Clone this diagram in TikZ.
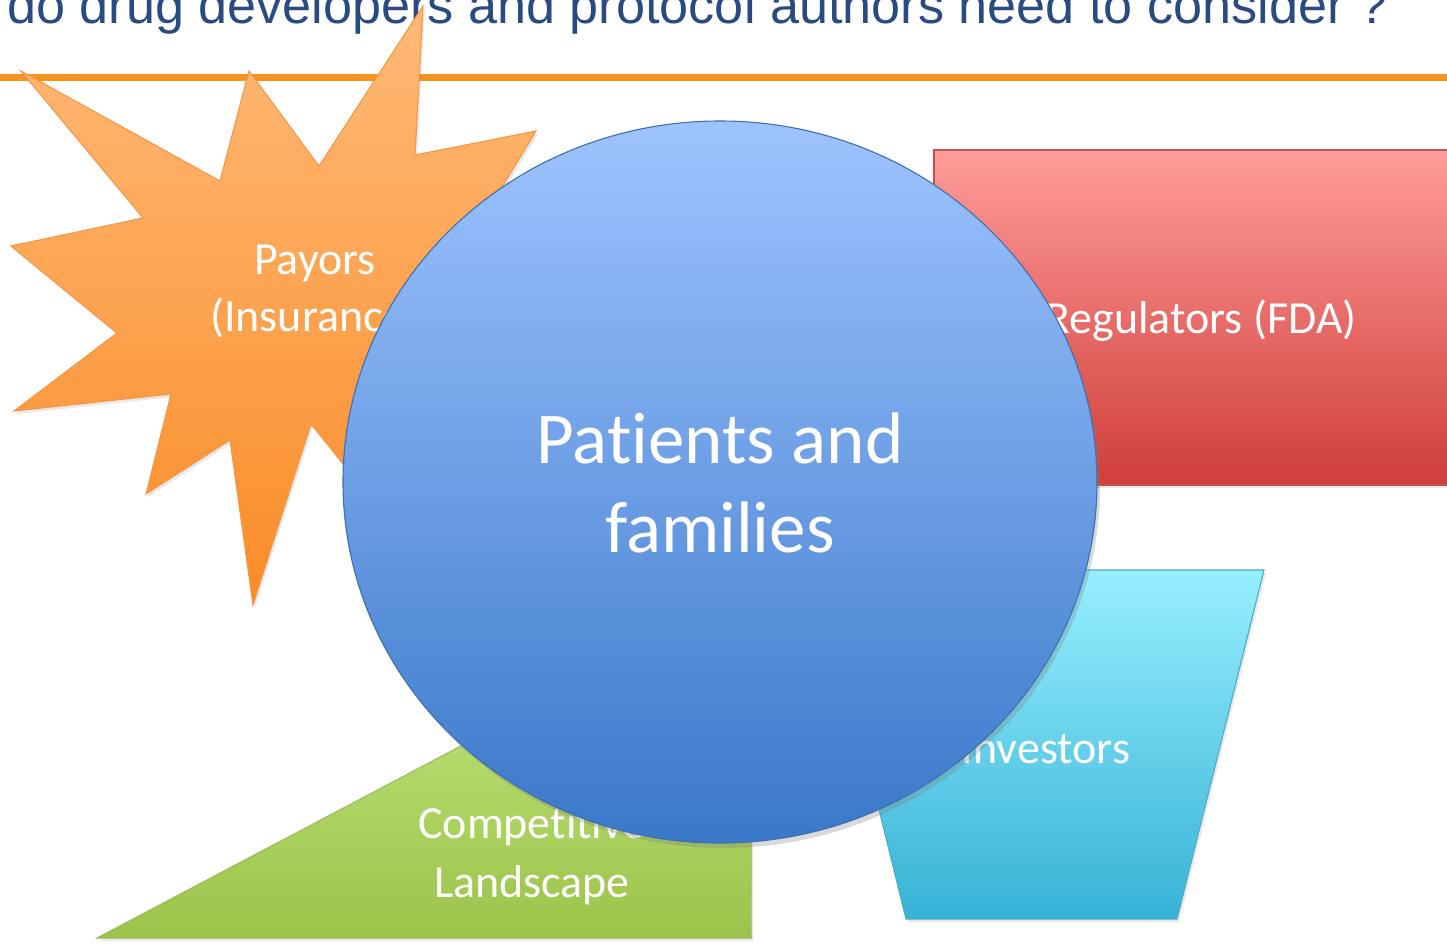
\documentclass[tikz,border=0pt]{standalone}
\usepackage{fontspec}
\setmainfont{Carlito}[Ligatures=NoCommon]
\newfontfamily\titlefont{Liberation Sans}
\usetikzlibrary{shadows}

\definecolor{titleblue}{HTML}{2A4B82}
\definecolor{rulecol}{HTML}{F7941E}
\definecolor{startop}{HTML}{FFBA78}
\definecolor{starbot}{HTML}{FA8C28}
\definecolor{starline}{HTML}{F79646}
\definecolor{redtop}{HTML}{FF9C99}
\definecolor{redbot}{HTML}{CF3E3A}
\definecolor{redline}{HTML}{C0504D}
\definecolor{cyantop}{HTML}{97EFFF}
\definecolor{cyanbot}{HTML}{36B2D6}
\definecolor{cyanline}{HTML}{4BACC6}
\definecolor{greentop}{HTML}{C8EC8A}
\definecolor{greenbot}{HTML}{9CC34A}
\definecolor{greenline}{HTML}{9BBB59}
\definecolor{circtop}{HTML}{9EC4FF}
\definecolor{circbot}{HTML}{3A78C9}
\definecolor{circline}{HTML}{3F6FAE}

\tikzset{
  softshadow/.style={drop shadow={opacity=0.18, shadow xshift=2pt, shadow yshift=-3pt}},
  shapebox/.style={softshadow, line width=1.1pt},
  label/.style={text=white, inner sep=0pt, anchor=base, font=\fontsize{46}{56}\selectfont},
  biglabel/.style={text=white, inner sep=0pt, anchor=base, font=\fontsize{73}{89}\selectfont}
}

\begin{document}
\begin{tikzpicture}[x=1pt,y=-1pt]
\useasboundingbox (0,0) rectangle (1447,943);
\clip (0,0) rectangle (1447,943);

% heading and rule
\node[anchor=base west, inner sep=0pt, text=titleblue] (title) at (7,23)
  {\resizebox{1381pt}{\height}{\titlefont\fontsize{52}{60}\selectfont do drug developers and protocol authors need to consider ?}};
\draw[rulecol, line width=7pt] (0,77) -- (1447,77);

% payors: explosion shape
\path[shapebox, draw=starline, top color=startop, bottom color=starbot]
  (21,71) -- (220,181) -- (249,71) -- (319,166) -- (423,6) -- (415,155)
  -- (536,131) -- (470,240) -- (600,330) -- (440,400) -- (420,560)
  -- (311,424) -- (253,605) -- (230,440) -- (146,494) -- (171,394)
  -- (14,411) -- (117,333) -- (11,246) -- (143,218) -- cycle;
\node[label] (payors1) at (315,274) {Payors};
\node[label] (payors2) at (315,331) {(Insurance)};

% regulators: rectangle
\path[shapebox, draw=redline, top color=redtop, bottom color=redbot]
  (934,150) rectangle (1468,485);
\node[label] (regulators) at (1201,333) {Regulators (FDA)};

% investors: trapezoid
\path[shapebox, draw=cyanline, top color=cyantop, bottom color=cyanbot]
  (820,570) -- (1264,570) -- (1177,919) -- (906,919) -- cycle;
\node[label] (investors) at (1046,763) {Investors};

% competitive landscape: right triangle
\path[shapebox, draw=greenline, top color=greentop, bottom color=greenbot]
  (97,938) -- (751,938) -- (751,593) -- cycle;
\node[label] (comp1) at (532,838) {Competitive};
\node[label] (comp2) at (532,897) {Landscape};

% patients and families: central circle
\path[drop shadow={opacity=0.3, shadow xshift=3pt, shadow yshift=-5pt},
      draw=circline, line width=1.1pt, top color=circtop, bottom color=circbot]
  (720,482) ellipse [x radius=377, y radius=361];
\node[biglabel] (patients1) at (720,463) {Patients and};
\node[biglabel] (patients2) at (720,552) {families};
\end{tikzpicture}
\end{document}
